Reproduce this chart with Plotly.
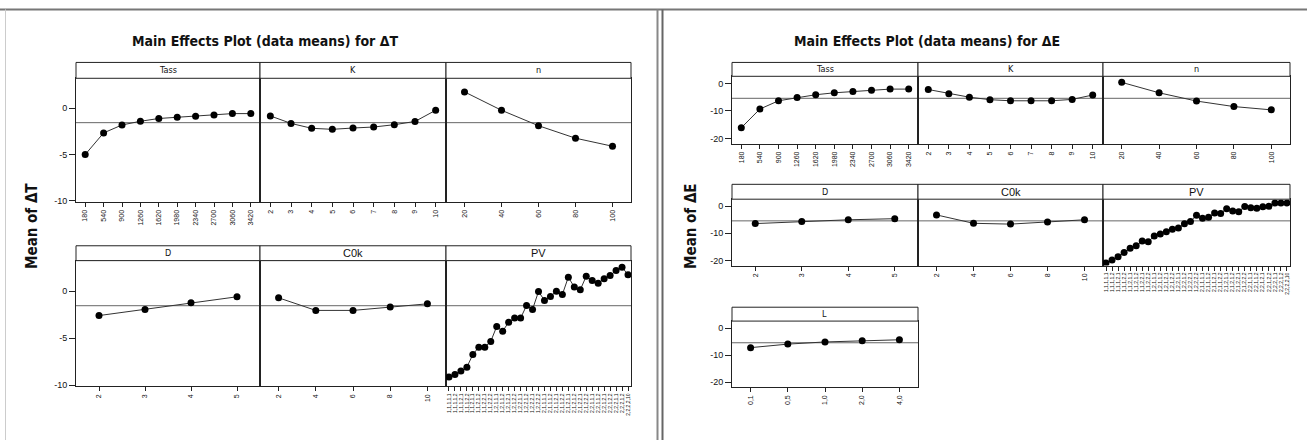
import plotly.graph_objects as go

W, H = 1307, 444

# ---------------- data ----------------
tass_levels = ["180", "540", "900", "1260", "1620", "1980", "2340", "2700", "3060", "3420"]
k_levels = ["2", "3", "4", "5", "6", "7", "8", "9", "10"]
n_levels = ["20", "40", "60", "80", "100"]
d_levels = ["2", "3", "4", "5"]
c0k_levels = ["2", "4", "6", "8", "10"]
l_levels = ["0,1", "0,5", "1,0", "2,0", "4,0"]
pv_levels = ["1,1,1,1,1", "1,1,1,1,2", "1,1,1,2,1", "1,1,1,2,2", "1,1,2,1,1", "1,1,2,1,2",
             "1,1,2,2,1", "1,1,2,2,2", "1,2,1,1,1", "1,2,1,1,2", "1,2,1,2,1", "1,2,1,2,2",
             "1,2,2,1,1", "1,2,2,1,2", "1,2,2,2,1", "1,2,2,2,2", "2,1,1,1,1", "2,1,1,1,2",
             "2,1,1,2,1", "2,1,1,2,2", "2,1,2,1,1", "2,1,2,1,2", "2,1,2,2,1", "2,1,2,2,2",
             "2,2,1,1,1", "2,2,1,1,2", "2,2,1,2,1", "2,2,1,2,2", "2,2,2,1,1", "2,2,2,1,2",
             "2,2,2,2,10"]

dT_tass = [-5.0, -2.66, -1.8, -1.4, -1.1, -0.96, -0.85, -0.71, -0.57, -0.57]
dT_k = [-0.82, -1.63, -2.16, -2.27, -2.13, -2.02, -1.77, -1.42, -0.21]
dT_n = [1.78, -0.21, -1.88, -3.23, -4.1]
dT_d = [-2.6, -1.95, -1.24, -0.6]
dT_c0k = [-0.71, -2.05, -2.05, -1.7, -1.35]
dT_pv = [-9.15, -8.87, -8.51, -8.09, -6.74, -5.96, -5.96, -5.35, -3.76, -4.26, -3.3,
         -2.87, -2.87, -1.53, -1.95, -0.04, -0.99, -0.57, 0.0, -0.35, 1.49, 0.43, 0.14,
         1.6, 1.13, 0.85, 1.31, 1.67, 2.2, 2.55, 1.74]
dT_mean = -1.55

dE_tass = [-16.1, -9.3, -6.3, -5.1, -4.1, -3.4, -2.9, -2.5, -2.05, -2.05]
dE_k = [-2.2, -3.7, -5.0, -5.9, -6.3, -6.3, -6.3, -5.8, -4.2]
dE_n = [0.4, -3.4, -6.4, -8.4, -9.6]
dE_d = [-6.4, -5.6, -5.0, -4.6]
dE_c0k = [-3.2, -6.3, -6.6, -5.8, -5.0]
dE_pv = [-20.9, -19.8, -18.6, -17.1, -15.5, -14.6, -12.8, -13.1, -11.0, -10.2, -9.4,
         -8.5, -8.0, -6.5, -5.6, -3.3, -4.4, -4.1, -2.5, -2.7, -0.9, -1.8, -2.0, -0.1,
         -0.6, -0.7, -0.2, 0.0, 1.2, 1.2, 1.2]
dE_l = [-7.2, -5.9, -5.1, -4.7, -4.3]
dE_mean = -5.4

titles = ["Main Effects Plot (data means) for \u0394T", "Main Effects Plot (data means) for \u0394E"]
ytitles = ["Mean of \u0394T", "Mean of \u0394E"]

# ---------------- layout geometry (pixels) ----------------
yT = dict(range=[-10.15, 3.25], tv=[-10, -5, 0], tt=["-10", "-5", "0"])
yE = dict(range=[-21.9, 2.6], tv=[-20, -10, 0], tt=["-20", "-10", "0"])

panels = [
    ("Tass", tass_levels, dT_tass, dT_mean, 76, 260, 63, 79, 204, True, yT),
    ("K", k_levels, dT_k, dT_mean, 260, 446, 63, 79, 204, False, yT),
    ("n", n_levels, dT_n, dT_mean, 446, 631, 63, 79, 204, False, yT),
    ("D", d_levels, dT_d, dT_mean, 76, 260, 248, 263, 390, True, yT),
    ("C0k", c0k_levels, dT_c0k, dT_mean, 260, 446, 248, 263, 390, False, yT),
    ("PV", pv_levels, dT_pv, dT_mean, 446, 631, 248, 263, 390, False, yT),
    ("Tass", tass_levels, dE_tass, dE_mean, 732, 918, 63, 77, 145, True, yE),
    ("K", k_levels, dE_k, dE_mean, 918, 1103, 63, 77, 145, False, yE),
    ("n", n_levels, dE_n, dE_mean, 1103, 1290, 63, 77, 145, False, yE),
    ("D", d_levels, dE_d, dE_mean, 732, 918, 186, 201, 268, True, yE),
    ("C0k", c0k_levels, dE_c0k, dE_mean, 918, 1103, 186, 201, 268, False, yE),
    ("PV", pv_levels, dE_pv, dE_mean, 1103, 1290, 186, 201, 268, False, yE),
    ("L", l_levels, dE_l, dE_mean, 732, 918, 310, 324, 391, True, yE),
]

def px(x):
    return x / W

def py(y):
    return 1 - y / H

fig = go.Figure()
layout = dict(width=W, height=H, margin=dict(l=0, r=0, t=0, b=0),
              paper_bgcolor="white", plot_bgcolor="white", showlegend=False)
shapes = []
annotations = []

TICKFONT = dict(family="Liberation Sans, Arial", size=9, color="#111")
for i, (name, lev, vals, mean, x0, x1, st, pt, pb, showy, yr) in enumerate(panels, start=1):
    xa = "x" if i == 1 else f"x{i}"
    ya = "y" if i == 1 else f"y{i}"
    fig.add_trace(go.Scatter(x=lev, y=vals, xaxis=xa, yaxis=ya, mode="lines+markers",
                             line=dict(color="#333", width=1),
                             marker=dict(color="black", size=7), hoverinfo="skip"))
    nlev = len(lev)
    small = nlev > 20
    layout["xaxis" if i == 1 else f"xaxis{i}"] = dict(
        domain=[px(x0), px(x1)], anchor=ya, type="category", range=[-0.5, nlev - 0.5],
        tickmode="array", tickvals=lev, ticktext=lev, tickangle=-90,
        ticks="outside", ticklen=4, tickcolor="#222", tickwidth=1,
        tickfont=dict(family="Liberation Sans, Arial", size=5 if small else 7, color="#111"),
        showline=True, linecolor="#222", linewidth=1, mirror=True,
        showgrid=False, zeroline=False, fixedrange=True)
    layout["yaxis" if i == 1 else f"yaxis{i}"] = dict(
        domain=[py(pb), py(pt)], anchor=xa, range=yr["range"],
        tickmode="array", tickvals=yr["tv"], ticktext=yr["tt"] if showy else ["", "", ""],
        ticks="outside" if showy else "", ticklen=6, tickcolor="#222",
        tickfont=TICKFONT,
        showline=True, linecolor="#222", linewidth=1, mirror=True,
        showgrid=False, zeroline=False, fixedrange=True)
    # reference (overall mean) line
    shapes.append(dict(type="line", xref=f"{xa} domain", yref=ya, x0=0, x1=1, y0=mean, y1=mean,
                       line=dict(color="#666", width=1), layer="below"))
    # strip box
    shapes.append(dict(type="rect", xref="paper", yref="paper", x0=px(x0), x1=px(x1),
                       y0=py(pt), y1=py(st), line=dict(color="#222", width=1),
                       fillcolor="white", layer="above"))
    big = name in ("C0k", "PV")
    annotations.append(dict(xref="paper", yref="paper", x=px((x0 + x1) / 2), y=py((st + pt) / 2),
                            text=name, showarrow=False, xanchor="center", yanchor="middle",
                            font=dict(family="Liberation Sans, Arial" if big else "DejaVu Sans Condensed, Liberation Sans",
                                      size=11 if big else 9, color="#111")))

# titles
for cx, t in zip([265, 927], titles):
    annotations.append(dict(xref="paper", yref="paper", x=px(cx), y=py(41), text=f"<b>{t}</b>",
                            showarrow=False, xanchor="center", yanchor="middle",
                            font=dict(family="DejaVu Sans Condensed, Liberation Sans", size=14, color="#111")))
for cx, t in zip([32, 691], ytitles):
    annotations.append(dict(xref="paper", yref="paper", x=px(cx), y=py(228), text=f"<b>{t}</b>",
                            showarrow=False, xanchor="center", yanchor="middle", textangle=-90,
                            font=dict(family="DejaVu Sans Condensed, Liberation Sans", size=15, color="#111")))

# outer frames
shapes.append(dict(type="line", xref="paper", yref="paper", x0=0, x1=1, y0=py(9.5), y1=py(9.5),
                   line=dict(color="#777", width=2)))
shapes.append(dict(type="line", xref="paper", yref="paper", x0=px(5.5), x1=px(5.5), y0=0, y1=py(9.5),
                   line=dict(color="#ccc", width=1)))
shapes.append(dict(type="line", xref="paper", yref="paper", x0=px(657.5), x1=px(657.5), y0=0, y1=py(9.5),
                   line=dict(color="#888", width=2)))
shapes.append(dict(type="line", xref="paper", yref="paper", x0=px(662.5), x1=px(662.5), y0=0, y1=py(9.5),
                   line=dict(color="#666", width=2)))

layout["shapes"] = shapes
layout["annotations"] = annotations
fig.update_layout(**layout)
fig.write_html("out.html", config={"displayModeBar": False, "staticPlot": True},
               post_script="document.body.style.margin='0';document.body.style.padding='0';")
